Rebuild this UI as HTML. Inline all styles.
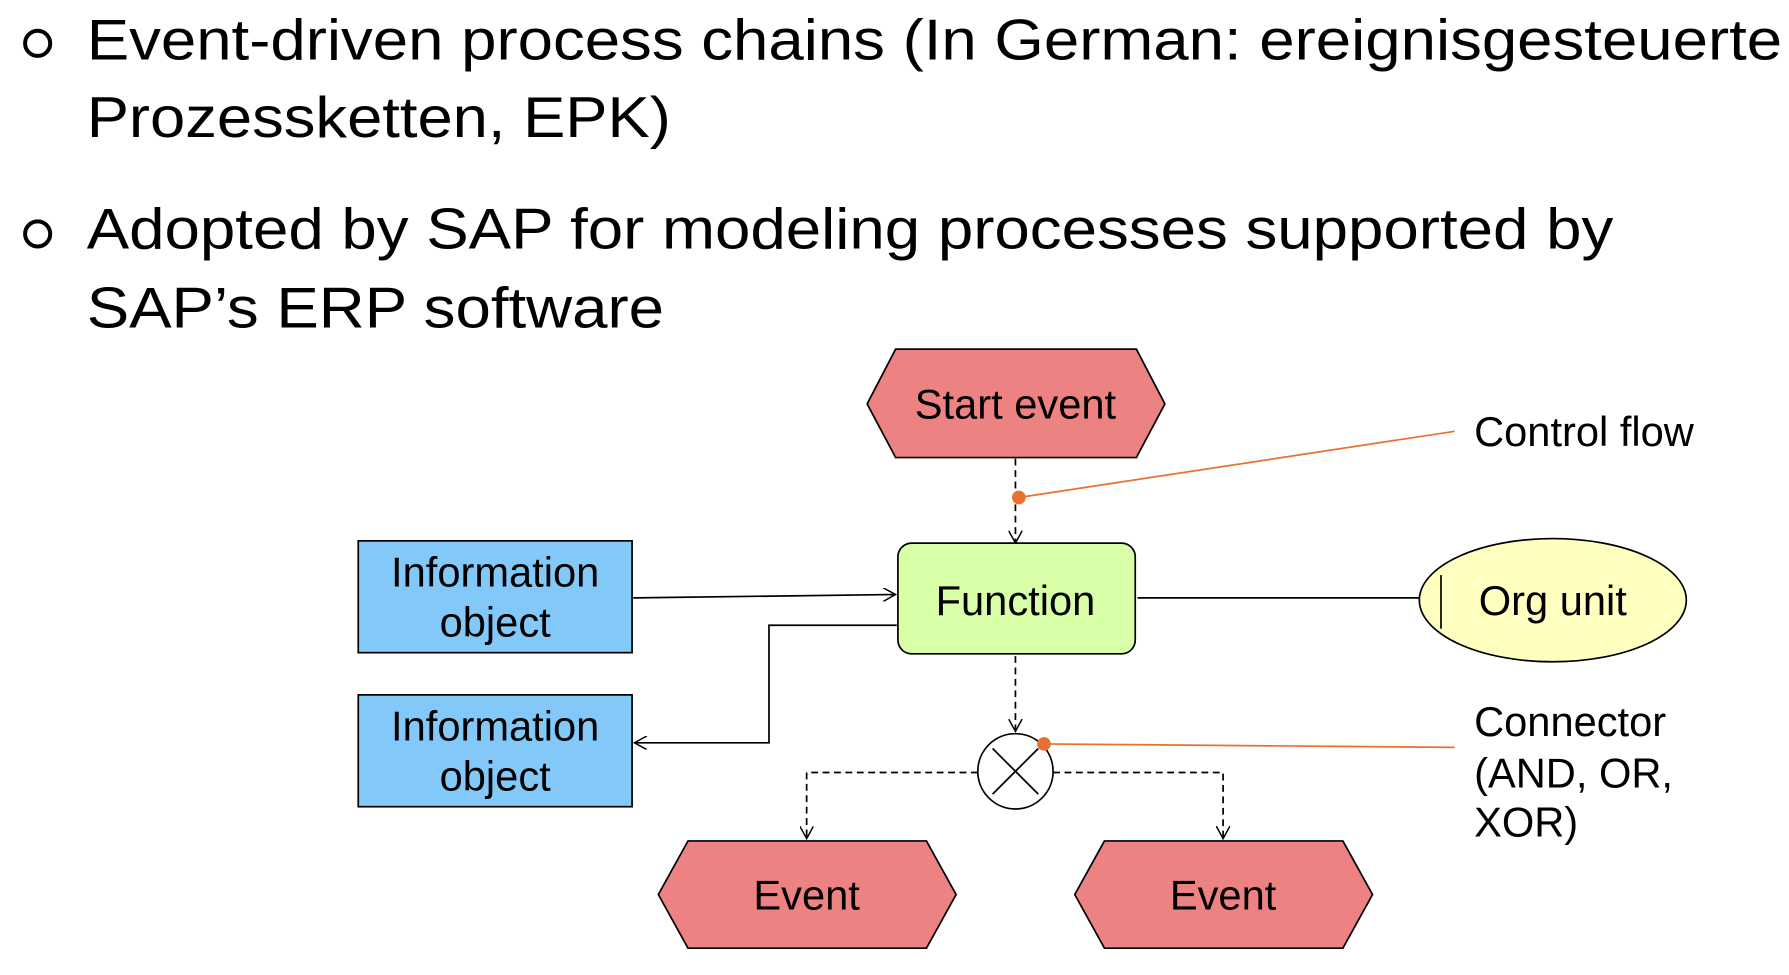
<!DOCTYPE html>
<html><head><meta charset="utf-8"><style>
html,body{margin:0;padding:0;background:#fff;width:1789px;height:975px;overflow:hidden}
svg{display:block}
text{font-family:"Liberation Sans",Arial,sans-serif;fill:#000}
</style></head><body>
<svg width="1789" height="975" viewBox="0 0 1568 854.5" preserveAspectRatio="none" xmlns="http://www.w3.org/2000/svg">
<defs>
<marker id="a" viewBox="0 0 12 12" refX="11" refY="6" markerWidth="12" markerHeight="12" markerUnits="userSpaceOnUse" orient="auto">
<path d="M0,0 L11,6 L0,12" fill="none" stroke="#000" stroke-width="1.3"/></marker>
</defs>
<circle cx="33" cy="38" r="11" fill="none" stroke="#000" stroke-width="3.5"/>
<circle cx="33" cy="205" r="11" fill="none" stroke="#000" stroke-width="3.5"/>
<g font-size="50">
<text x="76" y="52" textLength="1486" lengthAdjust="spacingAndGlyphs">Event-driven process chains (In German: ereignisgesteuerte</text>
<text x="76" y="120" textLength="512" lengthAdjust="spacingAndGlyphs">Prozessketten, EPK)</text>
<text x="76" y="218" textLength="1338" lengthAdjust="spacingAndGlyphs">Adopted by SAP for modeling processes supported by</text>
<text x="76" y="287" textLength="506" lengthAdjust="spacingAndGlyphs">SAP’s ERP software</text>
</g>
<g stroke="#000" stroke-width="1.5" fill="none">
<line x1="890" y1="402" x2="890" y2="476" stroke-dasharray="6,4" marker-end="url(#a)"/>
<line x1="890" y1="575" x2="890" y2="641" stroke-dasharray="6,4" marker-end="url(#a)"/>
<polyline points="857,677 707,677 707,735" stroke-dasharray="6,4" marker-end="url(#a)"/>
<polyline points="923,677 1072,677 1072,735" stroke-dasharray="6,4" marker-end="url(#a)"/>
<line x1="555" y1="524" x2="785" y2="521" marker-end="url(#a)"/>
<polyline points="786,548 674,548 674,651 556,651" marker-end="url(#a)"/>
<line x1="997" y1="524" x2="1244" y2="524"/>
</g>
<g font-size="36.5" text-anchor="middle">
<polygon points="760,354 785,306 996,306 1021,354 996,401 785,401" fill="#EC8282" stroke="#000" stroke-width="1.5"/>
<text x="890" y="367">Start event</text>
<rect x="787" y="476" width="208" height="97" rx="12" fill="#D8FFA8" stroke="#000" stroke-width="1.5"/>
<text x="890" y="539">Function</text>
<rect x="314" y="474" width="240" height="98" fill="#82C8F8" stroke="#000" stroke-width="1.5"/>
<text x="434" y="514">Information</text>
<text x="434" y="558">object</text>
<rect x="314" y="609" width="240" height="98" fill="#82C8F8" stroke="#000" stroke-width="1.5"/>
<text x="434" y="649">Information</text>
<text x="434" y="693">object</text>
<ellipse cx="1361" cy="526" rx="117" ry="54" fill="#FFFFC0" stroke="#000" stroke-width="1.5"/>
<line x1="1263" y1="504" x2="1263" y2="551" stroke="#000" stroke-width="1.5"/>
<text x="1361" y="539">Org unit</text>
<circle cx="890" cy="676" r="33" fill="#fff" stroke="#000" stroke-width="1.5"/>
<line x1="870" y1="656" x2="910" y2="696" stroke="#000" stroke-width="1.5"/>
<line x1="910" y1="656" x2="870" y2="696" stroke="#000" stroke-width="1.5"/>
<polygon points="577,784 603,737 812,737 838,784 812,831 603,831" fill="#EC8282" stroke="#000" stroke-width="1.5"/>
<text x="707" y="797">Event</text>
<polygon points="942,784 968,737 1177,737 1203,784 1177,831 968,831" fill="#EC8282" stroke="#000" stroke-width="1.5"/>
<text x="1072" y="797">Event</text>
</g>
<line x1="893" y1="436" x2="1275" y2="378" stroke="#E87030" stroke-width="1.5"/>
<circle cx="893" cy="436" r="6" fill="#E87030"/>
<line x1="915" y1="652" x2="1275" y2="655" stroke="#E87030" stroke-width="1.5"/>
<circle cx="915" cy="652" r="6" fill="#E87030"/>
<g font-size="36.5">
<text x="1292" y="391">Control flow</text>
<text x="1292" y="645">Connector</text>
<text x="1292" y="690">(AND, OR,</text>
<text x="1292" y="733">XOR)</text>
</g>
</svg>
</body></html>
